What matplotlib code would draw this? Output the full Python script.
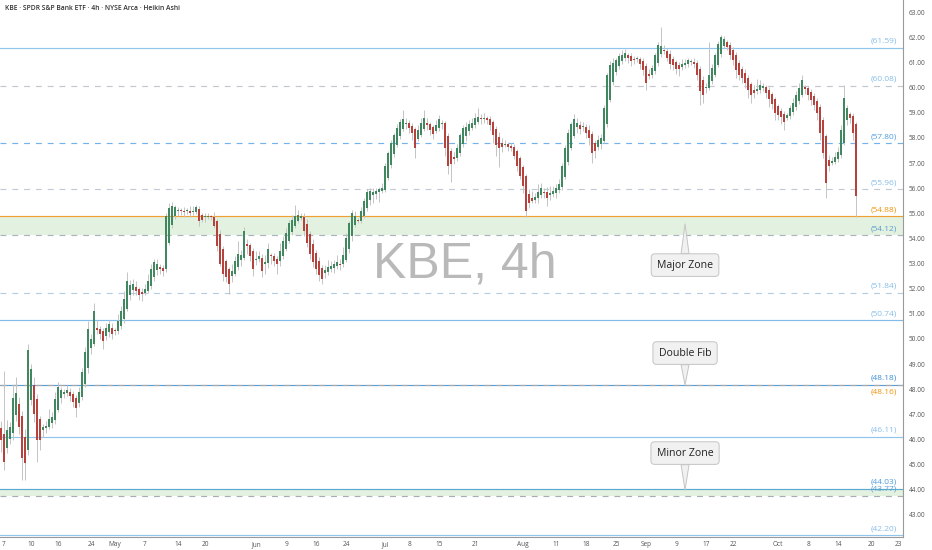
import matplotlib.pyplot as plt
import numpy as np

plt.rcParams['font.family'] = ['Open Sans', 'DejaVu Sans']

title = "KBE · SPDR S&P Bank ETF · 4h · NYSE Arca · Heikin Ashi"
watermark = "KBE, 4h"

# Heikin Ashi closes per 4h bar
first_open = 46.45
closes = [
    46.0, 45.1, 46.38, 46.5, 47.65, 47.85, 46.5, 45.25, 45.05, 49.56,
    48.8, 47.0, 46.0, 46.0, 46.5, 46.55, 46.8, 46.9, 47.6, 48.1,
    47.95, 47.9, 47.95, 47.75, 47.5, 47.25, 47.9, 48.7, 49.5, 50.4,
    50.0, 51.1, 50.35, 50.2, 49.9, 50.45, 50.6, 50.2, 50.3, 50.7,
    51.1, 51.6, 52.3, 52.15, 52.2, 51.9, 51.75, 51.8, 52.0, 52.3,
    52.8, 53.05, 53.0, 52.8, 52.7, 54.9, 55.2, 55.3, 55.25, 55.15,
    55.1, 55.05, 55.1, 55.0, 55.1, 55.25, 54.7, 54.75, 54.9, 54.9,
    54.85, 54.5, 53.7, 53.0, 52.6, 52.45, 52.2, 52.7, 53.1, 53.4,
    53.35, 54.3, 53.7, 53.3, 52.8, 53.2, 53.3, 52.7, 53.05, 53.6,
    53.3, 53.1, 53.0, 53.5, 53.9, 54.2, 54.6, 54.75, 54.9, 54.95,
    54.9, 54.3, 53.8, 53.4, 53.05, 52.8, 52.55, 52.4, 52.75, 52.85,
    52.9, 53.0, 53.05, 52.95, 53.35, 54.0, 54.6, 55.0, 54.9, 54.7,
    55.1, 55.5, 55.85, 55.9, 55.85, 55.9, 55.95, 56.0, 56.9, 57.4,
    57.8, 58.1, 58.4, 58.65, 58.75, 58.6, 58.4, 58.2, 57.6, 58.3,
    58.6, 58.8, 58.5, 58.3, 58.15, 58.5, 58.75, 58.6, 57.6, 56.9,
    56.95, 57.15, 57.6, 58.1, 58.4, 58.45, 58.55, 58.6, 58.8, 58.85,
    58.75, 58.8, 58.7, 58.5, 58.1, 57.7, 57.6, 57.65, 57.75, 57.65,
    57.6, 57.3, 56.9, 56.5, 56.1, 55.1, 55.4, 55.5, 55.65, 55.85,
    56.0, 55.8, 55.6, 55.8, 55.9, 56.0, 56.15, 56.9, 57.6, 58.2,
    58.55, 58.75, 58.6, 58.35, 58.45, 58.2, 58.0, 57.4, 57.5, 57.9,
    58.0, 59.2, 60.5, 60.9, 61.0, 61.1, 61.25, 61.3, 61.4, 61.2,
    61.05, 61.1, 61.15, 60.95, 60.7, 60.2, 60.45, 60.8, 61.3, 61.7,
    61.65, 61.45, 61.2, 60.95, 60.9, 60.75, 60.75, 60.95, 61.0, 61.1,
    61.05, 60.95, 60.5, 59.85, 59.7, 60.0, 60.5, 60.8, 61.3, 61.75,
    62.0, 61.95, 61.6, 61.3, 61.1, 60.7, 60.5, 60.4, 60.2, 59.9,
    59.7, 59.8, 59.95, 60.1, 60.05, 59.8, 59.55, 59.35, 59.0, 58.9,
    58.85, 58.65, 58.9, 59.2, 59.4, 59.7, 60.0, 60.3, 59.95, 59.7,
    59.5, 59.3, 59.0, 58.2, 57.4, 56.2, 56.9, 57.1, 57.25, 57.45,
    58.3, 59.6, 59.2, 58.8, 58.2, 55.7,
]
# wick length above / below the body
wick_up = [
    0.3, 2.5, 0.4, 0.2, 0.5, 0.65, 0.3, 0.2, 0.3, 0.25,
    0.2, 0.3, 0.2, 0.15, 0.1, 0.2, 0.4, 0.2, 0.3, 0.2,
    0.15, 0.1, 0.2, 0.15, 0.1, 0.1, 0.2, 0.15, 0.2, 0.3,
    0.2, 0.35, 0.3, 0.1, 0.15, 0.2, 0.15, 0.2, 0.1, 0.3,
    0.2, 0.3, 0.35, 0.2, 0.2, 0.25, 0.1, 0.15, 0.2, 0.3,
    0.2, 0.15, 0.2, 0.1, 0.1, 0.1, 0.2, 0.15, 0.1, 0.1,
    0.1, 0.15, 0.1, 0.2, 0.2, 0.1, 0.15, 0.1, 0.1, 0.1,
    0.05, 0.2, 0.1, 0.15, 0.1, 0.1, 0.1, 0.3, 0.2, 0.5,
    0.2, 0.15, 0.2, 0.1, 0.1, 0.3, 0.2, 0.15, 0.3, 0.2,
    0.1, 0.1, 0.1, 0.3, 0.2, 0.2, 0.15, 0.2, 0.45, 0.2,
    0.1, 0.15, 0.2, 0.1, 0.2, 0.1, 0.15, 0.1, 0.2, 0.3,
    0.2, 0.15, 0.3, 0.2, 0.3, 0.2, 0.1, 0.15, 0.2, 0.1,
    0.15, 0.1, 0.1, 0.1, 0.15, 0.1, 0.1, 0.2, 0.1, 0.1,
    0.1, 0.1, 0.15, 0.1, 0.35, 0.2, 0.15, 0.1, 0.1, 0.2,
    0.2, 0.3, 0.2, 0.1, 0.1, 0.2, 0.15, 0.1, 0.1, 0.1,
    0.1, 0.2, 0.15, 0.1, 0.1, 0.2, 0.15, 0.2, 0.2, 0.35,
    0.2, 0.2, 0.1, 0.15, 0.1, 0.1, 0.2, 0.2, 0.15, 0.1,
    0.1, 0.1, 0.1, 0.1, 0.1, 0.1, 0.2, 0.3, 0.15, 0.3,
    0.2, 0.15, 0.2, 0.3, 0.2, 0.15, 0.2, 0.1, 0.1, 0.15,
    0.1, 0.2, 0.2, 0.15, 0.2, 0.1, 0.2, 0.1, 0.15, 0.2,
    0.15, 0.1, 0.1, 0.15, 0.2, 0.1, 0.15, 0.2, 0.15, 0.1,
    0.15, 0.1, 0.1, 0.1, 0.15, 0.1, 0.2, 0.1, 0.1, 0.1,
    0.75, 0.2, 0.1, 0.15, 0.1, 0.1, 0.15, 0.2, 0.15, 0.1,
    0.1, 0.15, 0.1, 0.1, 0.15, 0.2, 1.3, 0.15, 0.1, 0.1,
    0.1, 0.1, 0.1, 0.1, 0.1, 0.1, 0.1, 0.1, 0.15, 0.1,
    0.1, 0.2, 0.4, 0.2, 0.15, 0.1, 0.1, 0.1, 0.1, 0.1,
    0.1, 0.1, 0.1, 0.1, 0.2, 0.15, 0.2, 0.2, 0.1, 0.1,
    0.1, 0.1, 0.1, 0.1, 0.1, 0.1, 0.2, 0.15, 0.2, 0.2,
    0.2, 0.5, 0.1, 0.1, 0.1, 0.1,
]
wick_dn = [
    0.5, 0.3, 0.2, 0.2, 0.3, 0.2, 0.3, 0.85, 0.65, 0.2,
    0.2, 0.3, 0.9, 0.4, 0.3, 0.2, 0.1, 0.2, 0.15, 0.1,
    0.2, 0.15, 0.1, 0.2, 0.2, 0.35, 0.15, 0.1, 0.1, 0.2,
    0.2, 0.1, 0.15, 0.2, 0.3, 0.15, 0.2, 0.2, 0.15, 0.1,
    0.1, 0.15, 0.1, 0.2, 0.2, 0.15, 0.2, 0.3, 0.1, 0.1,
    0.1, 0.15, 0.2, 0.2, 0.2, 0.1, 0.1, 0.1, 0.15, 0.2,
    0.15, 0.2, 0.1, 0.15, 0.1, 0.1, 0.2, 0.1, 0.2, 0.1,
    0.1, 0.1, 0.2, 0.1, 0.3, 0.2, 0.4, 0.2, 0.1, 0.1,
    0.2, 0.1, 0.3, 0.2, 0.3, 0.2, 0.1, 0.25, 0.4, 0.2,
    0.3, 0.2, 0.4, 0.2, 0.1, 0.1, 0.1, 0.1, 0.1, 0.1,
    0.1, 0.2, 0.15, 0.2, 0.2, 0.2, 0.25, 0.2, 0.2, 0.15,
    0.1, 0.2, 0.15, 0.2, 0.1, 0.1, 0.15, 0.2, 0.1, 0.1,
    0.1, 0.1, 0.1, 0.2, 0.3, 0.2, 0.4, 0.1, 0.1, 0.1,
    0.1, 0.1, 0.1, 0.1, 0.1, 0.2, 0.2, 0.3, 0.4, 0.1,
    0.1, 0.1, 0.2, 0.2, 0.2, 0.1, 0.1, 0.2, 0.3, 0.35,
    0.7, 0.2, 0.1, 0.1, 0.1, 0.2, 0.15, 0.1, 0.1, 0.1,
    0.2, 0.15, 0.15, 0.2, 0.3, 0.4, 0.75, 0.2, 0.1, 0.15,
    0.1, 0.15, 0.2, 0.15, 0.3, 0.25, 0.2, 0.1, 0.15, 0.2,
    0.1, 0.2, 0.3, 0.2, 0.1, 0.2, 0.1, 0.1, 0.1, 0.1,
    0.1, 0.1, 0.2, 0.2, 0.15, 0.2, 0.3, 0.4, 0.3, 0.1,
    0.2, 0.1, 0.1, 0.1, 0.1, 0.1, 0.1, 0.1, 0.1, 0.2,
    0.2, 0.15, 0.1, 0.2, 0.2, 0.3, 0.1, 0.1, 0.1, 0.1,
    0.1, 0.1, 0.15, 0.2, 0.2, 0.2, 0.3, 0.1, 0.1, 0.1,
    0.1, 0.15, 0.2, 0.55, 0.3, 0.2, 0.1, 0.1, 0.1, 0.1,
    0.1, 0.1, 0.1, 0.15, 0.2, 0.3, 0.2, 0.2, 0.2, 0.3,
    0.3, 0.2, 0.1, 0.1, 0.15, 0.2, 0.3, 0.2, 0.3, 0.2,
    0.3, 0.35, 0.1, 0.1, 0.1, 0.1, 0.1, 0.1, 0.2, 0.2,
    0.2, 0.2, 0.3, 0.3, 0.2, 0.6, 0.2, 0.1, 0.1, 0.1,
    0.1, 0.1, 0.2, 0.2, 0.3, 0.85,
]

# date ticks (bar index of each labelled date)
tick_bars = [1, 10, 19, 30, 38, 48, 59, 68, 85, 95, 105, 115, 128, 136, 146,
             158, 174, 185, 195, 205, 215, 225, 235, 244, 259, 269, 279, 290, 299]
tick_labels = ['7', '10', '16', '24', 'May', '7', '14', '20', 'Jun', '9', '16', '24',
               'Jul', '8', '15', '21', 'Aug', '11', '18', '25', 'Sep', '9', '17', '22',
               'Oct', '8', '14', '20', '23']
price_ticks = list(range(43, 64))

# horizontal levels
levels = [61.59, 60.08, 57.80, 55.96, 54.88, 54.12, 51.84, 50.74, 48.18, 48.16,
          46.11, 44.03, 43.77, 42.20]
zones = [(54.12, 54.88), (43.77, 44.03)]

BLUE_L = '#90c5ec'
LBL = '#86bde9'
ORANGE = '#f0a030'
# line colour, line style, label colour, label offset (pt)
level_style = {
    61.59: (BLUE_L, '-', LBL, 4.5),
    60.08: ('#c3c7cf', '--', LBL, 4.5),
    57.80: ('#74b3ea', '--', '#4f9ee0', 4.5),
    55.96: ('#c2cad6', '--', LBL, 4.5),
    54.88: (ORANGE, '-', '#f0940c', 4.5),
    54.12: ('#aab4be', '--', '#5a9ccc', 4.5),
    51.84: ('#b5cde3', '--', LBL, 4.5),
    50.74: ('#80bbe9', '-', LBL, 4.5),
    48.18: ('#5a9fd4', '-', '#3f8fd6', 4.5),
    48.16: ('#a8a8a8', '--', '#f0940c', -5.0),
    46.11: (BLUE_L, '-', LBL, 4.5),
    44.03: ('#5aaad0', '-', '#4f9ee0', 5.0),
    43.77: ('#a6adb5', '--', '#5a9ccc', 5.0),
    42.20: (BLUE_L, '-', LBL, 4.5),
}

# Heikin Ashi opens
closes = np.array(closes)
n = len(closes)
opens = np.empty(n)
opens[0] = first_open
for i in range(1, n):
    opens[i] = (opens[i - 1] + closes[i - 1]) / 2
top = np.maximum(opens, closes)
bot = np.minimum(opens, closes)
highs = top + np.array(wick_up)
lows = bot - np.array(wick_dn)

fig = plt.figure(figsize=(9.32, 5.5), dpi=100)
ax = fig.add_axes([0, 13 / 550, 903 / 932, 537 / 550])
ax.set_xlim(-0.35, 300.65)
ax.set_ylim(42.12, 63.49)

for lo, hi in zones:
    ax.axhspan(lo, hi, color='#e3f1e0', lw=0, zorder=1)

lbl_tr = ax.get_yaxis_transform()
for v in levels:
    c, ls, lc, off = level_style[v]
    line = ax.axhline(v, color=c, lw=0.85, ls=ls, zorder=2)
    if ls == '--':
        line.set_dashes((5, 5))
    ax.annotate('(%.2f)' % v, xy=(0.9934, v), xycoords=lbl_tr, xytext=(0, off),
                textcoords='offset points', ha='right', va='center',
                fontsize=6, color=lc, zorder=6)

x = np.arange(n)
ax.vlines(x, lows, highs, color='#c4c4c4', lw=0.7, zorder=3)
heights = np.maximum(top - bot, 0.04)
up = closes >= opens
ax.bar(x[up], heights[up], bottom=bot[up], width=0.65, color='#41875f', lw=0, zorder=4)
ax.bar(x[~up], heights[~up], bottom=bot[~up], width=0.65, color='#b5423d', lw=0, zorder=4)

fig.text(465 / 932, 1 - 265 / 550, watermark, fontsize=36, color='#b9b9b9',
         family='Liberation Sans', ha='center', va='center', zorder=0)

box = dict(boxstyle='round,pad=0.55,rounding_size=0.35', fc='#f1f1f1', ec='#c4c4c4', lw=0.7)
arrow = dict(arrowstyle='wedge,tail_width=0.75,shrink_factor=0.5', fc='#f1f1f1',
             ec='#c4c4c4', lw=0.7, shrinkA=0, shrinkB=0)
for txt, y_tip, y_box in [('Major Zone', 54.58, 52.94), ('Double Fib', 48.17, 49.44),
                          ('Minor Zone', 43.99, 45.46)]:
    ax.annotate(txt, xy=(228, y_tip), xytext=(228, y_box), ha='center', va='center',
                fontsize=7.6, color='#222222', bbox=box, arrowprops=arrow, zorder=7)

ax.yaxis.tick_right()
ax.set_yticks(price_ticks)
ax.set_yticklabels(['%.2f' % v for v in price_ticks])
ax.set_xticks(tick_bars)
ax.set_xticklabels(tick_labels)
ax.tick_params(axis='y', length=0, pad=4, labelsize=4.7, labelcolor='#555555')
ax.tick_params(axis='x', length=0, pad=3, labelsize=4.7, labelcolor='#555555')
for s in ['left', 'top']:
    ax.spines[s].set_visible(False)
for s in ['right', 'bottom']:
    ax.spines[s].set_color('#9a9a9a')
    ax.spines[s].set_linewidth(0.8)

fig.text(5 / 932, 1 - 8 / 550, title, fontsize=4.9, fontweight='semibold',
         color='#333333', ha='left', va='center')

fig.savefig('out.png', dpi=100, facecolor='white')
